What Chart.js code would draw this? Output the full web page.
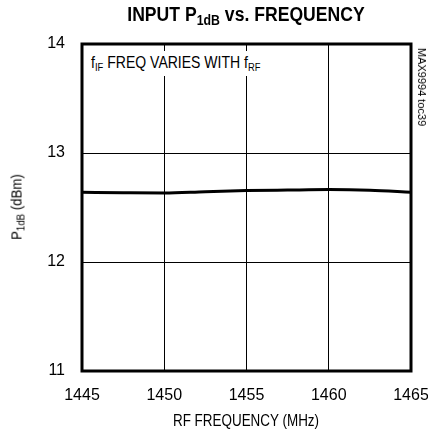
<!DOCTYPE html>
<html>
<head>
<meta charset="utf-8">
<script src="https://cdn.jsdelivr.net/npm/chart.js@4"></script>
<style>
  html, body { margin: 0; padding: 0; background: #fff; }
  #wrap { position: relative; width: 428px; height: 435px; overflow: hidden; font-family: 'Liberation Sans', Arial, sans-serif; color: #000; }
  #c { position: absolute; left: 0; top: 0; }
  .lbl { position: absolute; white-space: nowrap; font-weight: normal; }
  .title { left: 246px; top: 15px; transform: translate(-50%, -50%) scaleX(0.88); font-weight: bold; font-size: 20px; }
  .title sub { font-size: 14px; vertical-align: -4px; }
  .note { left: 86px; top: 51px; padding: 2px 5px 3px 6px; background: #fff; font-size: 16.5px; transform: scaleX(0.85); transform-origin: left center; }
  .note sub { font-size: 11px; vertical-align: -3px; }
  .ylab { left: 17px; top: 207px; transform: translate(-50%, -50%) rotate(-90deg) scaleX(0.88); font-size: 15px; }
  .ylab sub { font-size: 11px; vertical-align: -3px; }
  .xlab { left: 246px; top: 421px; transform: translate(-50%, -50%) scaleX(0.84); font-size: 16px; }
  .side { left: 422px; top: 87px; transform: translate(-50%, -50%) rotate(90deg); font-size: 11px; }
</style>
</head>
<body>
<div id="wrap">
  <canvas id="c" width="428" height="435"></canvas>
  <div class="lbl title">INPUT P<sub>1dB</sub> vs. FREQUENCY</div>
  <div class="lbl note">f<sub>IF</sub> FREQ VARIES WITH f<sub>RF</sub></div>
  <div class="lbl ylab">P<sub>1dB</sub> (dBm)</div>
  <div class="lbl xlab">RF FREQUENCY (MHz)</div>
  <div class="lbl side">MAX9994 toc39</div>
</div>
<script>
// 周波数 (MHz) と入力P1dB (dBm)
const freqMHz = [1445, 1447.5, 1450, 1452.5, 1455, 1457.5, 1460, 1462.5, 1465];
const p1dB = [12.64, 12.635, 12.632, 12.645, 12.655, 12.66, 12.664, 12.658, 12.64];
const xTicks = [1445, 1450, 1455, 1460, 1465];
const yTicks = [11, 12, 13, 14];

const tickFont = { family: "'Liberation Sans', Arial, sans-serif", size: 16 };

// 枠線 (上下左右の太線)
const framePlugin = {
  id: 'frame',
  afterDraw(chart) {
    const a = chart.chartArea;
    const ctx = chart.ctx;
    ctx.save();
    ctx.strokeStyle = '#000';
    ctx.lineWidth = 3;
    ctx.strokeRect(a.left, a.top, a.right - a.left, a.bottom - a.top);
    ctx.restore();
  }
};

new Chart(document.getElementById('c').getContext('2d'), {
  type: 'line',
  data: {
    datasets: [{
      data: freqMHz.map((f, i) => ({ x: f, y: p1dB[i] })),
      borderColor: '#000',
      borderWidth: 3,
      pointRadius: 0,
      tension: 0.4,
      cubicInterpolationMode: 'monotone'
    }]
  },
  options: {
    responsive: false,
    animation: false,
    layout: { padding: { left: 0, right: 0, top: 44, bottom: 0 } },
    plugins: { legend: { display: false }, tooltip: { enabled: false } },
    scales: {
      x: {
        type: 'linear',
        min: 1445, max: 1465,
        afterBuildTicks: s => { s.ticks = xTicks.map(v => ({ value: v })); },
        // 右端ラベル分の余白を固定
        afterFit: s => { s.height = 64; s.paddingLeft = 0; s.paddingRight = 17; },
        grid: { color: '#000', lineWidth: 1, drawTicks: false },
        border: { display: false },
        ticks: { color: '#000', font: tickFont, padding: 15, maxRotation: 0, callback: v => String(v) }
      },
      y: {
        min: 11, max: 14,
        afterBuildTicks: s => { s.ticks = yTicks.map(v => ({ value: v })); },
        afterFit: s => { s.width = 82; },
        grid: { color: '#000', lineWidth: 1, drawTicks: false },
        border: { display: false },
        ticks: { color: '#000', font: tickFont, padding: 17, callback: v => String(v) }
      }
    }
  },
  plugins: [framePlugin]
});
</script>
</body>
</html>
